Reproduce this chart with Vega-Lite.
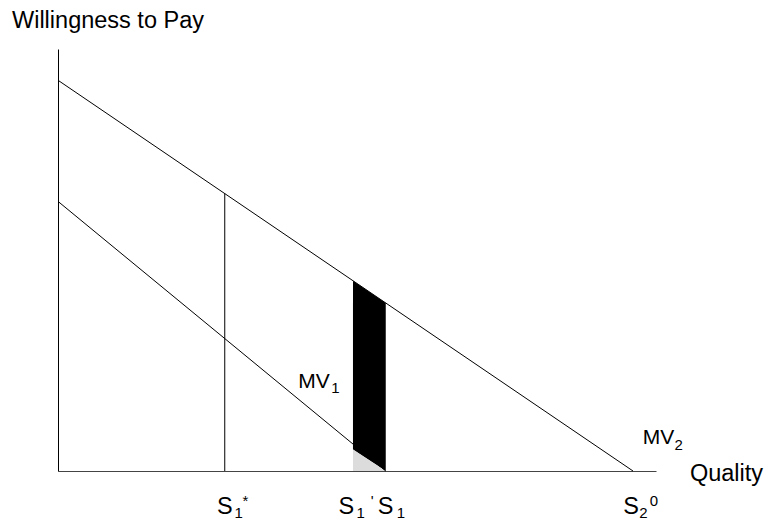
{
  "$schema": "https://vega.github.io/schema/vega-lite/v6.json",
  "width": 598,
  "height": 422,
  "autosize": {"type": "none"},
  "padding": {"left": 58, "top": 49, "right": 112, "bottom": 60},
  "background": "white",
  "config": {"view": {"stroke": null}, "text": {"font": "Liberation Sans", "color": "black"}},
  "datasets": {
    "lines": [
      {"curve": "MV2", "q": 0, "w": 100},
      {"curve": "MV2", "q": 100, "w": 0},
      {"curve": "MV1", "q": 0, "w": 69},
      {"curve": "MV1", "q": 57, "w": 0},
      {"curve": "S1star", "q": 29, "w": 0},
      {"curve": "S1star", "q": 29, "w": 71}
    ],
    "loss": [
      {"q": 51.3, "top": 48.7, "bottom": 5.5},
      {"q": 57, "top": 43, "bottom": 0}
    ],
    "gain": [
      {"q": 51.3, "top": 5.5, "bottom": 0},
      {"q": 57, "top": 0, "bottom": 0}
    ],
    "main": [
      {"label": "Willingness to Pay", "q": -8, "w": 113.5},
      {"label": "Quality", "q": 109.9, "w": -2.56},
      {"label": "S", "q": 27.65, "w": -11.1},
      {"label": "S", "q": 48.8, "w": -11.1},
      {"label": "S", "q": 55.6, "w": -11.1},
      {"label": "S", "q": 98.3, "w": -11.1}
    ],
    "curveLabels": [
      {"label": "MV", "q": 41.8, "w": 21.17},
      {"label": "MV", "q": 101.7, "w": 6.9}
    ],
    "sub": [
      {"label": "1", "q": 47.5, "w": 19.9},
      {"label": "2", "q": 107.2, "w": 5.4},
      {"label": "1", "q": 30.7, "w": -12.1},
      {"label": "1", "q": 51.9, "w": -12.1},
      {"label": "1", "q": 58.9, "w": -12.1},
      {"label": "2", "q": 101.1, "w": -12.1}
    ],
    "sup": [
      {"label": "*", "q": 32.1, "w": -6.0},
      {"label": "'", "q": 54.4, "w": -6.0},
      {"label": "0", "q": 102.9, "w": -6.0}
    ]
  },
  "layer": [
    {
      "data": {"name": "loss"},
      "mark": {"type": "area", "color": "black"},
      "encoding": {
        "x": {"field": "q", "type": "quantitative", "scale": {"domain": [0, 104], "nice": false, "zero": false}, "axis": {"domain": true, "domainColor": "#444", "domainWidth": 1, "ticks": false, "labels": false, "grid": false, "title": null}},
        "y": {"field": "top", "type": "quantitative", "scale": {"domain": [0, 108], "nice": false, "zero": false}, "axis": {"domain": true, "domainColor": "black", "domainWidth": 1, "ticks": false, "labels": false, "grid": false, "title": null}},
        "y2": {"field": "bottom"}
      }
    },
    {
      "data": {"name": "gain"},
      "mark": {"type": "area", "color": "#dcdcdc"},
      "encoding": {
        "x": {"field": "q", "type": "quantitative"},
        "y": {"field": "top", "type": "quantitative"},
        "y2": {"field": "bottom"}
      }
    },
    {
      "data": {"name": "lines"},
      "mark": {"type": "line", "color": "black", "strokeWidth": 1},
      "encoding": {
        "x": {"field": "q", "type": "quantitative"},
        "y": {"field": "w", "type": "quantitative"},
        "detail": {"field": "curve"}
      }
    },
    {
      "data": {"name": "main"},
      "mark": {"type": "text", "fontSize": 23.5, "align": "left", "baseline": "alphabetic"},
      "encoding": {
        "x": {"field": "q", "type": "quantitative"},
        "y": {"field": "w", "type": "quantitative"},
        "text": {"field": "label"}
      }
    },
    {
      "data": {"name": "curveLabels"},
      "mark": {"type": "text", "fontSize": 21, "align": "left", "baseline": "alphabetic"},
      "encoding": {
        "x": {"field": "q", "type": "quantitative"},
        "y": {"field": "w", "type": "quantitative"},
        "text": {"field": "label"}
      }
    },
    {
      "data": {"name": "sub"},
      "mark": {"type": "text", "fontSize": 15, "align": "left", "baseline": "alphabetic"},
      "encoding": {
        "x": {"field": "q", "type": "quantitative"},
        "y": {"field": "w", "type": "quantitative"},
        "text": {"field": "label"}
      }
    },
    {
      "data": {"name": "sup"},
      "mark": {"type": "text", "fontSize": 15, "align": "left", "baseline": "top"},
      "encoding": {
        "x": {"field": "q", "type": "quantitative"},
        "y": {"field": "w", "type": "quantitative"},
        "text": {"field": "label"}
      }
    }
  ]
}
